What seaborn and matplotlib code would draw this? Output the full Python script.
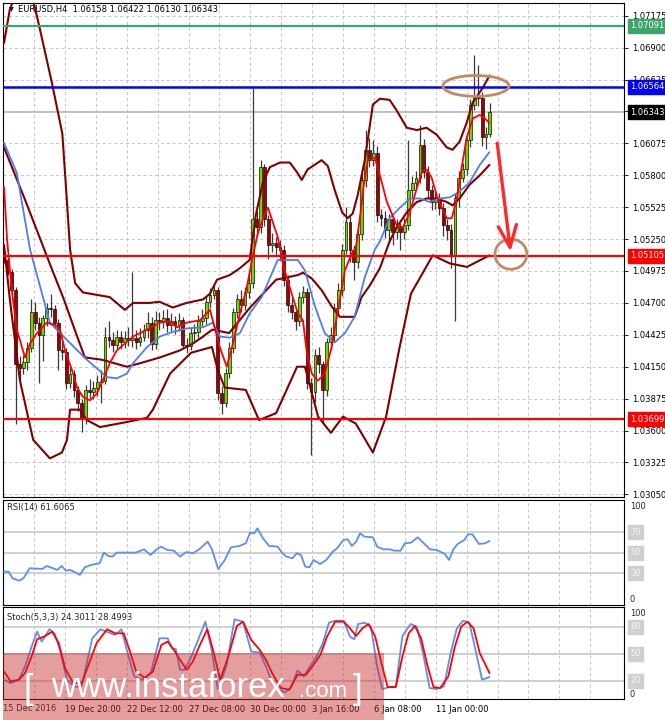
import matplotlib
matplotlib.use("Agg")
import numpy as np
import matplotlib.pyplot as plt
import seaborn as sns
from matplotlib.patches import Ellipse, Rectangle

# ---------------- data ----------------
closes = [1.0507, 1.0497, 1.0481, 1.0417, 1.0414, 1.0419, 1.0431, 1.0462, 1.0453, 1.0442,
          1.0457, 1.0466, 1.0465, 1.0453, 1.0429, 1.0428, 1.0401, 1.0409, 1.0395, 1.0384,
          1.0371, 1.0395, 1.0393, 1.0397, 1.0402, 1.0403, 1.0441, 1.0438, 1.0434, 1.0441,
          1.0436, 1.0440, 1.0438, 1.0440, 1.0436, 1.0441, 1.0447, 1.0453, 1.0435, 1.0455,
          1.0454, 1.0457, 1.0451, 1.0454, 1.0451, 1.0455, 1.0434, 1.0433, 1.0444, 1.0445,
          1.0454, 1.0457, 1.0471, 1.0477, 1.0481, 1.0392, 1.0384, 1.0410, 1.0431, 1.0462,
          1.0473, 1.0468, 1.0479, 1.0487, 1.0542, 1.0535, 1.0587, 1.0542, 1.0520, 1.0522,
          1.0518, 1.0516, 1.0490, 1.0468, 1.0462, 1.0454, 1.0475, 1.0479, 1.0401, 1.0393,
          1.0425, 1.0417, 1.0395, 1.0436, 1.0442, 1.0466, 1.0481, 1.0516, 1.0540, 1.0516,
          1.0505, 1.0529, 1.0576, 1.0602, 1.0593, 1.0599, 1.0546, 1.0543, 1.0533, 1.0542,
          1.0531, 1.0535, 1.0531, 1.0537, 1.0567, 1.0573, 1.0578, 1.0606, 1.0583, 1.0567,
          1.0557, 1.0560, 1.0552, 1.0537, 1.0533, 1.0511, 1.0560, 1.0578, 1.0585, 1.0610,
          1.0641, 1.0649, 1.0647, 1.0613, 1.06158, 1.06343]
highs = [1.0516, 1.0509, 1.0499, 1.0484, 1.0424, 1.0425, 1.0436, 1.0473, 1.0471, 1.0458,
         1.0460, 1.0470, 1.0478, 1.0468, 1.0456, 1.0436, 1.0431, 1.0415, 1.0412, 1.0398,
         1.0387, 1.0399, 1.0404, 1.0403, 1.0408, 1.0412, 1.0449, 1.0454, 1.0445, 1.0447,
         1.0446, 1.0446, 1.0449, 1.0497, 1.0447, 1.0448, 1.0452, 1.0462, 1.0458, 1.0463,
         1.0462, 1.0464, 1.0465, 1.0461, 1.0459, 1.0461, 1.0458, 1.0440, 1.0449, 1.0452,
         1.0460, 1.0465, 1.0476, 1.0483, 1.0486, 1.0484, 1.0398, 1.0414, 1.0436, 1.0466,
         1.0478, 1.0481, 1.0484, 1.0494, 1.0655, 1.0549, 1.0593, 1.0590, 1.0546, 1.0530,
         1.0527, 1.0524, 1.0520, 1.0494, 1.0474, 1.0466, 1.0479, 1.0485, 1.0483, 1.0405,
         1.0430, 1.0432, 1.0420, 1.0440, 1.0449, 1.0470, 1.0487, 1.0521, 1.0553, 1.0545,
         1.0520, 1.0535, 1.0582, 1.0619, 1.0612, 1.0610, 1.0605, 1.0551, 1.0549, 1.0547,
         1.0546, 1.0542, 1.0539, 1.0543, 1.0610, 1.0579, 1.0584, 1.0623, 1.0611, 1.0588,
         1.0572, 1.0566, 1.0565, 1.0556, 1.0542, 1.0538, 1.0565, 1.0584, 1.0591, 1.0616,
         1.0646, 1.0684, 1.0675, 1.0652, 1.0622, 1.06422]
lows = [1.0504, 1.0494, 1.0476, 1.0366, 1.0403, 1.0409, 1.0412, 1.0428, 1.0447, 1.0401,
        1.0420, 1.0450, 1.0458, 1.0448, 1.0412, 1.0421, 1.0396, 1.0397, 1.0389, 1.0377,
        1.0359, 1.0366, 1.0388, 1.0387, 1.0390, 1.0384, 1.0400, 1.0432, 1.0428, 1.0430,
        1.0430, 1.0431, 1.0433, 1.0432, 1.0430, 1.0433, 1.0437, 1.0440, 1.0429, 1.0430,
        1.0447, 1.0448, 1.0445, 1.0446, 1.0443, 1.0446, 1.0430, 1.0427, 1.0429, 1.0437,
        1.0440, 1.0450, 1.0452, 1.0466, 1.0473, 1.0386, 1.0374, 1.0380, 1.0405, 1.0427,
        1.0457, 1.0462, 1.0464, 1.0474, 1.0483, 1.0528, 1.0530, 1.0536, 1.0508, 1.0514,
        1.0510, 1.0506, 1.0485, 1.0462, 1.0456, 1.0447, 1.0450, 1.0470, 1.0396, 1.0339,
        1.0385, 1.0410, 1.0366, 1.0390, 1.0430, 1.0436, 1.0460, 1.0476, 1.0512, 1.0505,
        1.0490, 1.0500, 1.0524, 1.0570, 1.0587, 1.0588, 1.0540, 1.0536, 1.0526, 1.0523,
        1.0520, 1.0525, 1.0516, 1.0525, 1.0533, 1.0561, 1.0568, 1.0573, 1.0578, 1.0560,
        1.0550, 1.0551, 1.0546, 1.0528, 1.0524, 1.0500, 1.0454, 1.0553, 1.0574, 1.0580,
        1.0604, 1.0636, 1.0640, 1.0605, 1.0603, 1.06130]
first_open = 1.0513

bb_up_x = [0, 1.5, 4, 6, 7.5, 9.3, 12.3, 15, 16, 17, 18.3, 20.3, 27.2, 31.1, 33.2, 37.5, 40, 43.4, 47, 51.2,
           53, 54.8, 58.1, 60.7, 63.2, 64.8, 66.6, 68.4, 71, 73.5, 75.3, 76.6, 78.1, 81.7, 83.3, 85.1, 87, 88.4,
           89.7, 91, 92.8, 94.9, 96.7, 99.2, 101, 103.6, 106.2, 108.7, 111.3, 113.9, 115.4, 117.2, 119, 120.6,
           123.1, 124.9]
bb_up_y = [1.0694, 1.0723, 1.0744, 1.0744, 1.0731, 1.0705, 1.0660, 1.0616, 1.0567, 1.0516, 1.0487, 1.0479,
           1.0475, 1.0464, 1.0470, 1.0470, 1.0471, 1.0466, 1.0470, 1.0473, 1.0478, 1.0490, 1.0494, 1.0500,
           1.0507, 1.0546, 1.0574, 1.0587, 1.0591, 1.0591, 1.0583, 1.0576, 1.0585, 1.0593, 1.0588, 1.0567,
           1.0548, 1.0543, 1.0547, 1.0563, 1.0593, 1.0641, 1.0646, 1.0645, 1.0636, 1.0621, 1.0619, 1.0621,
           1.0615, 1.0604, 1.0602, 1.0609, 1.0625, 1.0643, 1.0655, 1.0666]
bb_mid_x = [0, 5.4, 12.1, 15.4, 18.5, 20.8, 25.2, 31.6, 35, 40.1, 45.2, 48.6, 51.2, 53.6, 57.9, 63.3, 70,
            75.6, 76.9, 79.2, 81.7, 84.3, 86.4, 90.2, 92, 94.1, 96.7, 99.2, 101, 103.6,
            106.2, 108.7, 111.3, 113.9, 115.4, 117.2, 119.8, 122.4, 124.9]
bb_mid_y = [1.0604, 1.0559, 1.0501, 1.0473, 1.0444, 1.0423, 1.0421, 1.0415, 1.0418, 1.0423, 1.0429, 1.0435,
            1.0441, 1.0447, 1.0444, 1.0466, 1.0490, 1.0494, 1.0496, 1.0491, 1.0481, 1.0467, 1.0458, 1.0458,
            1.0475, 1.0485, 1.0500, 1.0523, 1.0535, 1.0548, 1.0557, 1.0560, 1.0560, 1.0557, 1.0554, 1.0560,
            1.0572, 1.0580, 1.0589]
bb_low_x = [0, 1.5, 4.1, 7.5, 11.8, 14.9, 16.2, 17, 19.5, 21.3, 24.7, 31.1, 36.8, 38.3, 42.7, 48.1, 53.5,
            55, 56.8, 62.2, 65.6, 70, 75.4, 77.4, 80.8, 84.1, 87.2, 90.5, 94.9, 98.3, 101.6, 104.7, 110.3,
            114.7, 119.1, 124.9]
bb_low_y = [1.0520, 1.0473, 1.0403, 1.0352, 1.0336, 1.0341, 1.0352, 1.0378, 1.0378, 1.0369, 1.0363, 1.0367,
            1.0371, 1.0378, 1.0409, 1.0427, 1.0432, 1.0412, 1.0397, 1.0395, 1.0369, 1.0375, 1.0415, 1.0415,
            1.0372, 1.0358, 1.0372, 1.0366, 1.0341, 1.0372, 1.0429, 1.0478, 1.0511, 1.0504, 1.0501, 1.0511]
ma_slow_x = [0, 3.3, 6.7, 11.8, 16.2, 21.3, 26.5, 29, 31.6, 33.2, 36.8, 40.1, 43.4, 47, 51.2, 53.7, 55.5,
             58.1, 60.7, 63.2, 66.3, 70.4, 75.6, 77.4, 80, 82.5, 85.1, 87.7, 90.2, 92.8, 95.4, 96.7, 99.2,
             101.8, 104.4, 107, 109.5, 112.1, 114.7, 117.2, 119.8, 122.4, 124.9]
ma_slow_y = [1.0608, 1.0582, 1.0516, 1.0453, 1.0438, 1.0421, 1.0406, 1.0405, 1.0409, 1.0418, 1.0432, 1.0441,
             1.0445, 1.0448, 1.0449, 1.0453, 1.0441, 1.0440, 1.0444, 1.0461, 1.0475, 1.0507, 1.0507, 1.0498,
             1.0467, 1.0444, 1.0436, 1.0444, 1.0458, 1.0492, 1.0516, 1.0523, 1.0543, 1.0552, 1.0560, 1.0560,
             1.0557, 1.0560, 1.0561, 1.0566, 1.0574, 1.0589, 1.0600]
ma_fast_x = [0, 0.8, 2, 3.3, 5.4, 6.7, 8.5, 11, 13.1, 14.4, 15.7, 17.5, 18.8, 20.3, 22.1, 23.9, 25.4, 27.2,
             29, 31.1, 33.2, 36.8, 40.1, 42.7, 44.5, 47, 50.4, 53, 53.7, 55.5, 57.3, 58.9, 60.7, 62.5, 63.8,
             65.3, 67.1, 67.9, 68.9, 70.4, 72.2, 74, 75.6, 76.9, 77.9, 79.2, 80.7, 82.5, 84.3, 85.9, 87.7,
             89.5, 90.5, 91.5, 92.5, 93.6, 95.4, 96.7, 98.5, 101, 102.6, 104.4, 106.2, 107.5, 108.7, 110,
             111.3, 112.6, 113.9, 115.2, 116.5, 117.7, 119, 120.6, 122.4, 123.7, 124.9]
ma_fast_y = [1.0570, 1.0524, 1.0481, 1.0447, 1.0423, 1.0435, 1.0444, 1.0453, 1.0451, 1.0447, 1.0429, 1.0412,
             1.0397, 1.0389, 1.0386, 1.0392, 1.0403, 1.0418, 1.0429, 1.0435, 1.0441, 1.0447, 1.0453, 1.0454,
             1.0449, 1.0453, 1.0455, 1.0464, 1.0455, 1.0432, 1.0415, 1.0435, 1.0461, 1.0484, 1.0507, 1.0530,
             1.0547, 1.0552, 1.0542, 1.0527, 1.0498, 1.0478, 1.0461, 1.0455, 1.0427, 1.0409, 1.0403, 1.0409,
             1.0432, 1.0464, 1.0498, 1.0513, 1.0517, 1.0542, 1.0570, 1.0593, 1.0595, 1.0580, 1.0557, 1.0537,
             1.0535, 1.0548, 1.0569, 1.0583, 1.0585, 1.0578, 1.0563, 1.0552, 1.0543, 1.0543, 1.0560, 1.0586,
             1.0612, 1.0629, 1.0632, 1.0629, 1.0625]

rsi_x = [0, 1.2, 2.2, 3.9, 5, 6.6, 9.9, 11, 12.6, 13.7, 14.8, 15.9, 17, 18, 19.5, 20.8, 22.4, 24.6, 25.7, 26.8,
         27.9, 29, 33.9, 36, 37.7, 39.3, 40.4, 42, 43.7, 45.3, 46.9, 48.6, 50.2, 52.4, 53.5, 55.1, 56.8, 58.4,
         60.6, 62.2, 63.3, 64.4, 65.2, 66.6, 68.2, 70.4, 71.5, 72.6, 74.2, 75.3, 76.4, 77.5, 78.6, 79.6, 81.3,
         82.9, 84.6, 85.7, 87.3, 88.4, 89.5, 90.6, 91.6, 92.7, 94.9, 96, 97.6, 99.3, 100.4, 102, 103.1, 104.7,
         106.4, 108, 109.6, 111.3, 113.4, 114.5, 115.6, 116.7, 118.4, 119.4, 120.5, 122.2, 123.8, 124.9]
rsi_y = [31.6, 31.6, 25.1, 22.9, 25.1, 34.9, 34.3, 37.2, 34.9, 33.3, 37.2, 32.6, 33.3, 31.6, 28.4, 35.9, 38.2,
         39.8, 50.2, 46.9, 46.3, 50.2, 50.2, 53.4, 47.9, 53.4, 56.0, 52.8, 52.1, 46.3, 50.8, 49.5, 53.4, 60.9,
         53.4, 34.3, 43.0, 55.4, 56.7, 59.3, 69.7, 69.0, 73.9, 64.2, 56.7, 56.0, 50.2, 46.3, 44.7, 49.5, 47.9,
         36.5, 35.9, 43.0, 39.1, 43.0, 51.2, 54.4, 62.5, 63.2, 56.7, 60.9, 69.0, 65.8, 65.1, 56.0, 53.4, 53.4,
         52.1, 52.1, 59.3, 59.9, 65.1, 59.3, 53.4, 52.8, 48.9, 43.0, 53.4, 58.6, 62.5, 68.0, 68.0, 58.6, 59.3,
         61.6]

stk_x = [0, 1.7, 3.8, 5.4, 7.1, 8.5, 9.7, 11.7, 13, 14.6, 16.2, 18.2, 20, 21.1, 22.7, 24.8, 27, 28.6, 30.2,
         31.8, 33.5, 35.6, 37.8, 40, 42.1, 43.2, 44.2, 45.3, 46.4, 48, 49.6, 51.8, 53.4, 55, 57.2, 59.3, 61.5,
         63.6, 65.8, 67.4, 69, 70.7, 72.3, 73.9, 75.5, 77.1, 78.7, 80.4, 82, 83.6, 85.2, 87.4, 89, 90.1, 91.1,
         92.8, 94.4, 96, 97.3, 99.2, 100.8, 102.5, 104.6, 106.2, 107.8, 109.5, 111.1, 113.2, 114.9, 116.5,
         118.1, 119.7, 121.3, 123, 124.9]
stk_y = [21.1, 17.4, 21.1, 35.8, 57.9, 74.5, 63.4, 77.1, 72.6, 50.6, 21.1, 13.0, 14.5, 35.8, 67.1, 77.1, 73.4,
         70.8, 77.1, 50.6, 24.8, 21.1, 29.2, 67.1, 67.1, 56.1, 55.0, 32.2, 32.2, 45.0, 61.6, 85.5, 54.2, 10.8,
         35.8, 88.1, 85.5, 52.4, 51.3, 35.8, 17.4, 10.1, 7.1, 13.0, 31.4, 24.8, 35.8, 46.9, 61.6, 84.4, 86.6,
         86.6, 69.0, 66.0, 82.9, 84.4, 80.0, 35.8, 10.8, 13.0, 13.8, 69.7, 82.9, 80.0, 50.6, 11.9, 10.8, 13.8,
         50.6, 78.2, 86.6, 84.4, 54.2, 21.1, 24.3]
std_x = [0, 1.7, 3.8, 5.4, 7.1, 8.5, 10.3, 12.4, 14.1, 15.7, 17.8, 20, 21.6, 23.8, 26.5, 28.6, 30.8, 32.4, 34,
         36.2, 38.3, 40.5, 42.1, 43.7, 45.3, 47, 48.6, 50.2, 52.3, 54, 55.6, 57.7, 59.9, 61.5, 63.6, 65.8, 67.4,
         69, 71.2, 73.4, 75.5, 77.7, 79.3, 81.4, 83.1, 85.2, 87.4, 89, 90.6, 92.2, 93.8, 95.5, 97.1, 98.7,
         100.8, 102.5, 104.1, 105.7, 107.3, 109, 110.5, 112.2, 114.3, 116, 117.6, 119.2, 120.8, 122.4, 124.9]
std_y = [30.3, 19.3, 21.1, 28.5, 46.9, 66.0, 69.0, 74.5, 61.6, 34.0, 17.4, 17.4, 35.8, 61.6, 77.1, 72.6, 72.6,
         52.4, 30.3, 23.0, 30.3, 59.8, 63.4, 54.2, 43.2, 32.2, 41.4, 57.9, 77.1, 50.6, 21.1, 46.9, 80.7, 85.5,
         65.3, 54.2, 43.2, 28.5, 11.9, 10.1, 26.6, 26.6, 35.8, 48.7, 69.0, 85.5, 85.5, 78.2, 69.7, 78.2, 82.9,
         69.0, 39.5, 13.0, 13.0, 46.9, 72.6, 80.7, 67.1, 35.8, 13.0, 11.9, 24.8, 57.9, 80.0, 85.5, 78.2, 50.6,
         28.5]

green_level = 1.07091
blue_level = 1.06564
last_price = 1.06343
red_levels = [1.05105, 1.03699]
price_ticks = [1.03050, 1.03325, 1.03600, 1.03875, 1.04150, 1.04425, 1.04700, 1.04975,
               1.05250, 1.05525, 1.05800, 1.06075, 1.06350, 1.06625, 1.06900, 1.07175]
rsi_levels = [70, 50, 30]
stoch_levels = [80, 50, 20]
date_labels = ["15 Dec 2016", "19 Dec 20:00", "22 Dec 12:00", "27 Dec 08:00",
               "30 Dec 00:00", "3 Jan 16:00", "6 Jan 08:00", "11 Jan 00:00"]
title_text = "EURUSD,H4  1.06158 1.06422 1.06130 1.06343"
rsi_text = "RSI(14) 61.6065"
stoch_text = "Stoch(5,3,3) 24.3011 28.4993"

# ---------------- figure ----------------
sns.set_theme(style="white")
plt.rcParams['font.family'] = ['DejaVu Sans']
W, H = 665, 720
fig = plt.figure(figsize=(W / 100, H / 100), dpi=100)
fig.patch.set_facecolor("white")


def axes_px(x0, y0, x1, y1):
    return fig.add_axes([x0 / W, 1 - y1 / H, (x1 - x0) / W, (y1 - y0) / H])


ax = axes_px(3, 3, 624, 497)
ax_r = axes_px(3, 500, 624, 605)
ax_s = axes_px(3, 607, 624, 699)

XMIN, XMAX = -0.26, 159.5
grid_x = 7.72 + 7.95 * np.arange(19)
GRID = dict(ls=(0, (3, 3)), color="#c4c4c4", lw=0.7)
FS = 6

for a in (ax, ax_r, ax_s):
    a.set_facecolor("white")
    a.set_xlim(XMIN, XMAX)
    for sp in a.spines.values():
        sp.set_color("black")
        sp.set_linewidth(0.8)
    a.set_xticks(grid_x)
    a.xaxis.grid(True, **GRID)
    a.set_axisbelow(True)

# ---- main price panel ----
n = len(closes)
idx = np.arange(n)
c = np.array(closes)
o = np.array([first_open] + closes[:-1])
bull = c >= o
body_lo = np.minimum(o, c)
body_h = np.maximum(np.abs(c - o), 0.00005)
colors = np.where(bull, "#74d400", "#a00000")

ax.set_ylim(1.03027, 1.07285)
ax.set_yticks(price_ticks)
# the 1.06350 tick sits behind the current-price label, as in the terminal
ax.set_yticklabels(["" if abs(t - last_price) < 0.0002 else f"{t:.5f}" for t in price_ticks])
ax.yaxis.tick_right()
ax.tick_params(axis="y", direction="out", length=3, width=0.6, labelsize=FS, pad=2.5, colors="black")
ax.tick_params(axis="x", length=0, labelbottom=False)
ax.yaxis.grid(True, **GRID)

ax.axhline(last_price, color="#bdbdbd", lw=1.3, zorder=1.5)
ax.vlines(idx, lows, highs, color="#3a3a3a", lw=0.9, zorder=2)
ax.bar(idx, body_h, bottom=body_lo, width=0.72, color=colors, edgecolor="black", linewidth=0.45, zorder=3)

for xs, ys, col, lw in [(bb_up_x, bb_up_y, "#800000", 1.5), (bb_mid_x, bb_mid_y, "#800000", 1.5),
                        (bb_low_x, bb_low_y, "#800000", 1.5), (ma_slow_x, ma_slow_y, "#4f7ee8", 1.3),
                        (ma_fast_x, ma_fast_y, "#ff0000", 1.3)]:
    sns.lineplot(x=xs, y=ys, ax=ax, color=col, linewidth=lw, estimator=None, sort=False, zorder=4)

ax.axhline(green_level, color="#3aa66a", lw=1.6, zorder=5)
ax.axhline(blue_level, color="#0000ff", lw=1.8, zorder=5)
for lv in red_levels:
    ax.axhline(lv, color="#ff0000", lw=1.6, zorder=5)

# annotations
ax.add_patch(Ellipse((121.4, 1.0657), 17, 0.0018, fill=False, edgecolor="#c08a62", lw=2.0, zorder=6))
ax.add_patch(Ellipse((130.4, 1.0512), 8.2, 0.0026, fill=False, edgecolor="#c08a62", lw=2.0, zorder=6))
ax.annotate("", xy=(130.4, 1.0512), xytext=(126.8, 1.0610),
            arrowprops=dict(arrowstyle="->,head_length=1.3,head_width=0.55", color="#ff2a2a", lw=2.4),
            zorder=6)

LX = (630 - 3) / 621


def box_label(a, y, text, fc, tc="white"):
    a.text(LX, y, text, transform=a.get_yaxis_transform(), ha="left", va="center", fontsize=FS,
           color=tc, clip_on=False, zorder=10,
           bbox=dict(boxstyle="square,pad=0.3", fc=fc, ec=fc))


box_label(ax, green_level, f"{green_level:.5f}", "#3aa66a")
box_label(ax, blue_level, f"{blue_level:.5f}", "#0000ff")
box_label(ax, last_price, f"{last_price:.5f}", "#000000")
for lv in red_levels:
    box_label(ax, lv, f"{lv:.5f}", "#ff0000")

ax.text(0.0097, 0.986, "\u25bc", transform=ax.transAxes, fontsize=4.5, va="center", ha="left", color="black")
ax.text(0.024, 0.986, title_text, transform=ax.transAxes, fontsize=FS, va="center", ha="left", color="black")

# ---- RSI panel ----
ax_r.set_ylim(-0.9, 101.5)
ax_r.set_yticks([])
ax_r.tick_params(axis="x", length=0, labelbottom=False)
for lv in rsi_levels:
    ax_r.axhline(lv, color="#c8c8c8", lw=1.2, zorder=1)
    box_label(ax_r, lv, str(lv), "#cfcfcf", "#f4f4f4")
ax_r.text(LX, 100, "100", transform=ax_r.get_yaxis_transform(), ha="left", va="top", fontsize=FS, clip_on=False)
ax_r.text(LX, 0, "0", transform=ax_r.get_yaxis_transform(), ha="left", va="bottom", fontsize=FS, clip_on=False)
sns.lineplot(x=rsi_x, y=rsi_y, ax=ax_r, color="#5b8ff0", linewidth=1.3, estimator=None, sort=False, zorder=3)
ax_r.text(0.0064, 0.924, rsi_text, transform=ax_r.transAxes, fontsize=FS, va="center", ha="left")

# ---- Stochastic panel ----
ax_s.set_ylim(-0.2, 101.8)
ax_s.set_yticks([])
for lv in stoch_levels:
    ax_s.axhline(lv, color="#c8c8c8", lw=1.2, zorder=1)
    box_label(ax_s, lv, str(lv), "#cfcfcf", "#f4f4f4")
ax_s.text(LX, 100, "100", transform=ax_s.get_yaxis_transform(), ha="left", va="top", fontsize=FS, clip_on=False)
ax_s.text(LX, 0, "0", transform=ax_s.get_yaxis_transform(), ha="left", va="bottom", fontsize=FS, clip_on=False)
sns.lineplot(x=stk_x, y=stk_y, ax=ax_s, color="#5b8ff0", linewidth=1.3, estimator=None, sort=False, zorder=3)
sns.lineplot(x=std_x, y=std_y, ax=ax_s, color="#ff0000", linewidth=1.3, estimator=None, sort=False, zorder=4)
ax_s.text(0.0064, 0.891, stoch_text, transform=ax_s.transAxes, fontsize=FS, va="center", ha="left")

xt_labels = [""] * len(grid_x)
for k, lab in enumerate(date_labels[1:]):
    xt_labels[2 * k + 1] = lab
ax_s.set_xticklabels(xt_labels)
ax_s.tick_params(axis="x", direction="out", length=3, width=0.6, labelsize=FS, pad=1.5, colors="black")
for t in ax_s.get_xticklabels():
    t.set_horizontalalignment("left")
ax_s.text(0.0, -0.098, date_labels[0], transform=ax_s.transAxes, fontsize=FS, va="center", ha="left")

for a in (ax, ax_r, ax_s):
    a.set_xlabel("")
    a.set_ylabel("")
    if a.get_legend() is not None:
        a.get_legend().remove()

# ---- watermark ----
fig.add_artist(Rectangle((3 / W, 0), (384 - 3) / W, (720 - 653) / H, transform=fig.transFigure,
                         facecolor=(0.78, 0.16, 0.16), alpha=0.45, edgecolor="none", zorder=20))
wm = dict(color="white", va="baseline", ha="left", family=["Liberation Sans", "DejaVu Sans"], zorder=21)
fig.text(24 / W, 1 - 699 / H, "[", fontsize=25, **wm)
fig.text(51 / W, 1 - 697 / H, "www.instaforex", fontsize=25, **wm)
fig.text(299 / W, 1 - 697 / H, ".com", fontsize=16, **wm)
fig.text(353 / W, 1 - 699 / H, "]", fontsize=25, **wm)

fig.savefig("out.png", dpi=100, facecolor="white")
